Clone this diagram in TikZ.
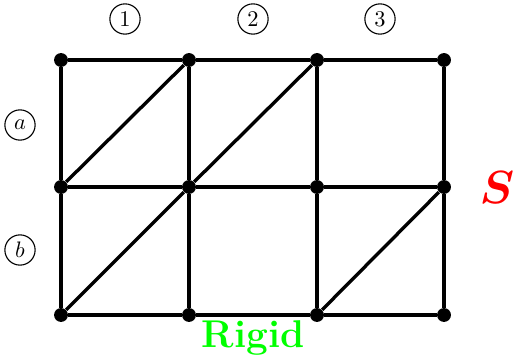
\documentclass[tikz,border=0pt]{standalone}
\begin{document}
\begin{tikzpicture}[x=0.015686cm,y=-0.015686cm,
  dot/.style={circle,fill=black,inner sep=0pt,minimum size=6.2pt},
  edge/.style={line width=1.5pt},
  circ/.style={circle,draw,line width=0.5pt,inner sep=0pt,minimum size=13.5pt,font=\normalsize}]
\useasboundingbox (0,0) rectangle (516,363);
\foreach \i/\x in {1/61,2/189,3/317,4/444}{
  \foreach \j/\y in {1/60,2/187,3/315}{
    \node[dot] (n\i\j) at (\x,\y) {};
  }
}
\foreach \j in {1,2,3}{
  \draw[edge] (n1\j) -- (n2\j) -- (n3\j) -- (n4\j);
}
\foreach \i in {1,2,3,4}{
  \draw[edge] (n\i1) -- (n\i2) -- (n\i3);
}
\draw[edge] (n12) -- (n21);
\draw[edge] (n22) -- (n31);
\draw[edge] (n13) -- (n22);
\draw[edge] (n33) -- (n42);
\node[circ] (c1) at (125,19) {1};
\node[circ] (c2) at (253,19) {2};
\node[circ] (c3) at (380,19) {3};
\node[circ] (ca) at (20,125) {$a$};
\node[circ] (cb) at (20,250) {$b$};
\node[text=red,font=\huge\bfseries\boldmath] (S) at (497,188) {$S$};
\node[text=green,font=\LARGE\bfseries] (R) at (253,338) {Rigid};
\end{tikzpicture}
\end{document}
